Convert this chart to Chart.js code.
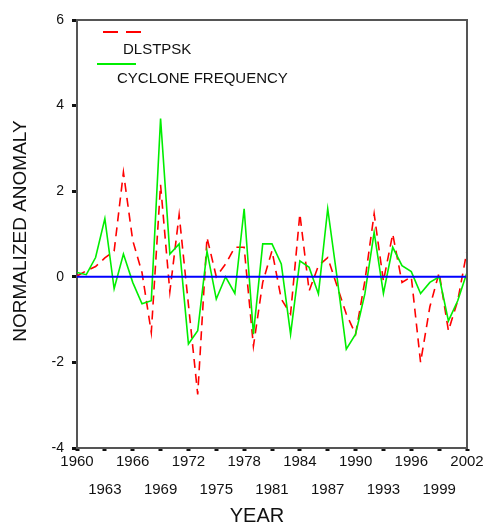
<!DOCTYPE html>
<html>
<head>
<meta charset="utf-8">
<script src="https://cdn.jsdelivr.net/npm/chart.js@4/dist/chart.umd.min.js"></script>
<style>
  html,body{margin:0;padding:0;background:#fff;}
  #chart{display:block;}
</style>
</head>
<body>
<canvas id="chart" width="483" height="524"></canvas>
<script>
// yearly values
const years = [1960,1961,1962,1963,1964,1965,1966,1967,1968,1969,1970,1971,1972,1973,1974,1975,1976,1977,1978,1979,1980,
  1981,1982,1983,1984,1985,1986,1987,1988,1989,1990,1991,1992,1993,1994,1995,1996,1997,1998,1999,2000,2001,2002];
const dlstpsk = [0.02,0.14,0.24,0.44,0.6,2.44,0.85,0.1,-1.3,2.15,-0.35,1.45,-0.65,-2.75,0.92,0.0,0.3,0.69,0.69,-1.62,-0.13,
  0.61,-0.52,-0.87,1.47,-0.33,0.26,0.45,-0.21,-0.87,-1.34,-0.1,1.47,-0.1,1.0,-0.13,0.0,-2.0,-0.7,0.1,-1.26,-0.56,0.61];
const cyclone = [0.1,0.05,0.45,1.36,-0.28,0.53,-0.13,-0.63,-0.56,3.7,0.53,0.77,-1.57,-1.26,0.6,-0.52,0.0,-0.39,1.59,-1.34,0.77,
  0.77,0.3,-1.34,0.37,0.22,-0.4,1.59,0.0,-1.69,-1.34,-0.4,1.04,-0.39,0.69,0.26,0.12,-0.39,-0.13,0.0,-1.03,-0.56,0.1];
const zeroLine = [0,0];
const xRange = [1960,2002];
const yRange = [-4,6];
const seriesNames = ['DLSTPSK','CYCLONE FREQUENCY'];
const xTitle = 'YEAR';
const yTitle = 'NORMALIZED ANOMALY';

const FONT = "'Liberation Sans', Arial, sans-serif";
const AXIS_COL = '#555';

const pts = (vals)=>vals.map((v,i)=>({x:years[i],y:v}));

// frame, legend and axis titles (SPSS-like look)
const decor = {
  id:'decor',
  afterDraw(chart){
    const {ctx,chartArea:a} = chart;
    ctx.save();
    // top + right frame
    ctx.strokeStyle = AXIS_COL; ctx.lineWidth = 2;
    ctx.beginPath();
    ctx.moveTo(a.left,a.top); ctx.lineTo(a.right,a.top); ctx.lineTo(a.right,a.bottom);
    ctx.stroke();

    // legend
    ctx.lineWidth = 2;
    ctx.strokeStyle = '#ff0000'; ctx.setLineDash([15,8]);
    ctx.beginPath(); ctx.moveTo(a.left+26,a.top+12); ctx.lineTo(a.left+65,a.top+12); ctx.stroke();
    ctx.setLineDash([]);
    ctx.strokeStyle = '#00ee00';
    ctx.beginPath(); ctx.moveTo(a.left+20,a.top+44); ctx.lineTo(a.left+59,a.top+44); ctx.stroke();
    ctx.fillStyle = '#111';
    ctx.font = '15px '+FONT;
    ctx.textAlign = 'left'; ctx.textBaseline = 'middle';
    ctx.fillText(seriesNames[0], a.left+46, a.top+30);
    ctx.fillText(seriesNames[1], a.left+40, a.top+59);

    // axis titles
    ctx.font = '20px '+FONT;
    ctx.textAlign = 'center';
    ctx.fillText(xTitle, 257, 516);
    ctx.translate(21,231);
    ctx.rotate(-Math.PI/2);
    ctx.font = '19px '+FONT;
    ctx.fillText(yTitle, 0, 0);
    ctx.restore();
  }
};

new Chart(document.getElementById('chart'),{
  type:'line',
  data:{datasets:[
    {data:[{x:xRange[0],y:zeroLine[0]},{x:xRange[1],y:zeroLine[1]}],borderColor:'#0000ff',borderWidth:2,pointRadius:0,order:0},
    {label:seriesNames[1],data:pts(cyclone),borderColor:'#00ee00',borderWidth:1.6,pointRadius:0,tension:0,order:1},
    {label:seriesNames[0],data:pts(dlstpsk),borderColor:'#ff0000',borderWidth:1.6,borderDash:[9,6],pointRadius:0,tension:0,order:2}
  ]},
  options:{
    responsive:false,animation:false,
    layout:{padding:{left:0,top:20,right:16,bottom:0}},
    plugins:{legend:{display:false},tooltip:{enabled:false}},
    scales:{
      x:{
        type:'linear',min:xRange[0],max:xRange[1],
        afterFit:(s)=>{s.height=76;},
        grid:{drawOnChartArea:false,drawTicks:true,tickLength:3,tickWidth:4,tickColor:'#111'},
        border:{display:true,color:AXIS_COL,width:2},
        ticks:{
          stepSize:3,autoSkip:false,maxRotation:0,padding:-3,color:'#111',
          font:{family:FONT,size:15,lineHeight:1.85},
          callback:(v,i)=> i%2===0 ? [String(v)] : ['',String(v)]
        }
      },
      y:{
        min:yRange[0],max:yRange[1],
        afterFit:(s)=>{s.width=77;},
        grid:{drawOnChartArea:false,drawTicks:true,tickLength:5,tickWidth:3,tickColor:'#111'},
        border:{display:true,color:AXIS_COL,width:2},
        ticks:{stepSize:2,padding:8,color:'#111',font:{family:FONT,size:14}}
      }
    }
  },
  plugins:[decor]
});
</script>
</body>
</html>
